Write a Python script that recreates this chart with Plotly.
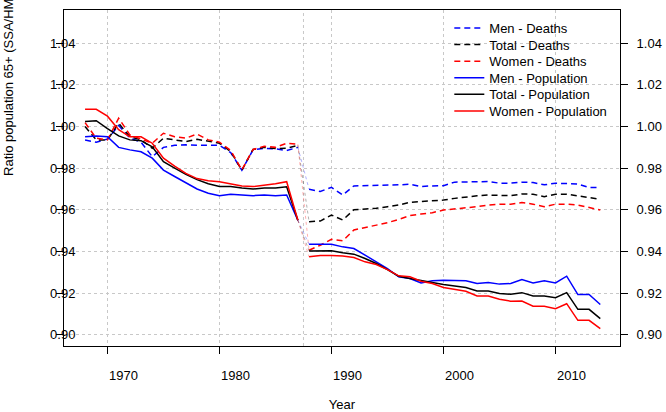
import plotly.graph_objects as go

# ---------------- data ----------------
YEARS_PRE = list(range(1968, 1988))   # 1968..1987
YEARS_POST = list(range(1988, 2015))  # 1988..2014
BREAK_YEAR = 1987.5

men_deaths_pre = [0.9935, 0.9925, 0.9940, 1.0005, 0.9945, 0.9925, 0.9855, 0.9900, 0.9910, 0.9912,
                  0.9910, 0.9910, 0.9910, 0.9875, 0.9790, 0.9888, 0.9895, 0.9893, 0.9885, 0.9900]
total_deaths_pre = [1.0000, 0.9936, 0.9936, 1.0016, 0.9951, 0.9936, 0.9896, 0.9944, 0.9936, 0.9928,
                    0.9939, 0.9928, 0.9920, 0.9880, 0.9790, 0.9890, 0.9900, 0.9894, 0.9896, 0.9910]
women_deaths_pre = [1.0019, 0.9944, 0.9936, 1.0040, 0.9960, 0.9940, 0.9920, 0.9968, 0.9951, 0.9944,
                    0.9964, 0.9936, 0.9925, 0.9885, 0.9792, 0.9890, 0.9905, 0.9900, 0.9920, 0.9915]
men_pop_pre = [0.9951, 0.9955, 0.9951, 0.9900, 0.9888, 0.9879, 0.9848, 0.9791, 0.9760, 0.9728,
               0.9700, 0.9680, 0.9668, 0.9675, 0.9672, 0.9668, 0.9671, 0.9668, 0.9671, 0.9550]
total_pop_pre = [1.0024, 1.0028, 0.9990, 0.9955, 0.9936, 0.9932, 0.9903, 0.9831, 0.9800, 0.9770,
                 0.9745, 0.9725, 0.9712, 0.9712, 0.9705, 0.9700, 0.9705, 0.9705, 0.9711, 0.9550]
women_pop_pre = [1.0083, 1.0083, 1.0050, 0.9985, 0.9951, 0.9951, 0.9920, 0.9848, 0.9810, 0.9775,
                 0.9750, 0.9740, 0.9735, 0.9725, 0.9715, 0.9712, 0.9718, 0.9725, 0.9735, 0.9550]

men_deaths_post = [0.9699, 0.9688, 0.9708, 0.9671, 0.9715, 0.9716, 0.9716, 0.9716, 0.9720, 0.9723,
                   0.9712, 0.9715, 0.9716, 0.9733, 0.9733, 0.9733, 0.9736, 0.9728, 0.9728, 0.9733,
                   0.9731, 0.9720, 0.9728, 0.9726, 0.9724, 0.9707, 0.9707]
total_deaths_post = [0.9543, 0.9546, 0.9575, 0.9551, 0.9600, 0.9604, 0.9607, 0.9615, 0.9623, 0.9636,
                     0.9639, 0.9643, 0.9647, 0.9655, 0.9662, 0.9667, 0.9671, 0.9671, 0.9668, 0.9676,
                     0.9675, 0.9663, 0.9675, 0.9675, 0.9668, 0.9659, 0.9651]
women_deaths_post = [0.9406, 0.9430, 0.9458, 0.9451, 0.9503, 0.9514, 0.9527, 0.9538, 0.9554, 0.9572,
                     0.9580, 0.9586, 0.9599, 0.9604, 0.9612, 0.9615, 0.9623, 0.9627, 0.9627, 0.9635,
                     0.9627, 0.9615, 0.9627, 0.9627, 0.9623, 0.9612, 0.9599]
men_pop_post = [0.9434, 0.9434, 0.9434, 0.9422, 0.9414, 0.9382, 0.9350, 0.9318, 0.9278, 0.9270,
                0.9249, 0.9259, 0.9262, 0.9262, 0.9259, 0.9246, 0.9251, 0.9243, 0.9246, 0.9265,
                0.9249, 0.9259, 0.9249, 0.9281, 0.9193, 0.9193, 0.9145]
total_pop_post = [0.9402, 0.9403, 0.9403, 0.9394, 0.9387, 0.9366, 0.9342, 0.9313, 0.9281, 0.9270,
                  0.9259, 0.9251, 0.9241, 0.9233, 0.9227, 0.9210, 0.9210, 0.9198, 0.9194, 0.9202,
                  0.9186, 0.9186, 0.9178, 0.9202, 0.9122, 0.9122, 0.9077]
women_pop_post = [0.9374, 0.9381, 0.9381, 0.9378, 0.9371, 0.9350, 0.9337, 0.9313, 0.9283, 0.9278,
                  0.9257, 0.9246, 0.9227, 0.9217, 0.9209, 0.9186, 0.9186, 0.9170, 0.9161, 0.9162,
                  0.9137, 0.9137, 0.9125, 0.9149, 0.9069, 0.9069, 0.9029]

X_TICKS = [1970, 1980, 1990, 2000, 2010]
Y_TICKS = [0.90, 0.92, 0.94, 0.96, 0.98, 1.00, 1.02, 1.04]
Y_TICK_TEXT = ["0.90", "0.92", "0.94", "0.96", "0.98", "1.00", "1.02", "1.04"]

# ---------------- figure ----------------
FONT = "Liberation Sans, Arial, sans-serif"
BLUE, RED, BLACK = "#0000ff", "#ff0000", "#000000"
GRID = "#c8c8c8"

series = [
    ("Men - Deaths", men_deaths_pre, men_deaths_post, BLUE, "6px,4px"),
    ("Total - Deaths", total_deaths_pre, total_deaths_post, BLACK, "6px,4px"),
    ("Women - Deaths", women_deaths_pre, women_deaths_post, RED, "6px,4px"),
    ("Men - Population", men_pop_pre, men_pop_post, BLUE, "solid"),
    ("Total - Population", total_pop_pre, total_pop_post, BLACK, "solid"),
    ("Women - Population", women_pop_pre, women_pop_post, RED, "solid"),
]

fig = go.Figure()

# faint connectors across the break
for name, pre, post, col, dash in series:
    fig.add_trace(go.Scatter(
        x=[YEARS_PRE[-1], YEARS_POST[0]], y=[pre[-1], post[0]],
        mode="lines", line=dict(color=col, width=1, dash="dot"),
        opacity=0.3, showlegend=False, hoverinfo="skip", yaxis="y2"))

legend_names = ["legend", "legend2", "legend3", "legend4", "legend5", "legend6"]
for i, (name, pre, post, col, dash) in enumerate(series):
    fig.add_trace(go.Scatter(
        x=YEARS_PRE, y=pre, mode="lines", name=name, legendgroup=name,
        legend=legend_names[i],
        line=dict(color=col, width=1.5, dash=dash)))
    fig.add_trace(go.Scatter(
        x=YEARS_POST, y=post, mode="lines", name=name, legendgroup=name,
        showlegend=False, line=dict(color=col, width=1.5, dash=dash)))

YR = [0.89457, 1.0560]
XR = [1966.12, 2015.76]

fig.add_shape(type="line", xref="x", yref="paper", x0=BREAK_YEAR, x1=BREAK_YEAR,
              y0=0, y1=1, line=dict(color=GRID, width=1, dash="3px,3px"), layer="below")

# one single-entry legend per series, stacked with a tight row pitch
PLOT_TOP, PLOT_H = 10, 336
legend_layout = {}
for i, ln in enumerate(legend_names):
    yc = 28 + 16.6 * i
    legend_layout[ln] = dict(
        x=0.693, y=(PLOT_TOP + PLOT_H - yc) / PLOT_H, xanchor="left", yanchor="middle",
        bgcolor="rgba(0,0,0,0)", borderwidth=0, font=dict(family=FONT, size=13))

fig.update_layout(
    width=666, height=412,
    margin=dict(l=64, r=46, t=10, b=66, autoexpand=False),
    paper_bgcolor="white", plot_bgcolor="white",
    font=dict(family=FONT, size=13, color="black"),
    showlegend=True,
    **legend_layout,
    xaxis=dict(range=XR, tickvals=X_TICKS, ticktext=[str(v) for v in X_TICKS],
               ticks="outside", ticklen=7, tickcolor="black",
               ticklabelshift=16, ticklabelstandoff=10, automargin=False,
               showline=True, linecolor="black", linewidth=1, mirror=True,
               showgrid=True, gridcolor=GRID, griddash="3px,3px", gridwidth=1,
               zeroline=False,
               title=dict(text="Year", font=dict(size=13), standoff=22)),
    yaxis=dict(range=YR, tickvals=Y_TICKS, ticktext=Y_TICK_TEXT,
               ticks="outside", ticklen=7, tickcolor="black",
               ticklabelstandoff=-22, automargin=False,
               showline=True, linecolor="black", linewidth=1, mirror=True,
               showgrid=True, gridcolor=GRID, griddash="3px,3px", gridwidth=1,
               zeroline=False),
    yaxis2=dict(range=YR, overlaying="y", side="right", tickvals=Y_TICKS, ticktext=Y_TICK_TEXT,
                ticks="outside", ticklen=7, tickcolor="black", ticklabelstandoff=6,
                automargin=False,
                showline=True, linecolor="black", linewidth=1,
                showgrid=False, zeroline=False),
)

fig.add_annotation(text="Ratio population 65+ (SSA/HMD)", textangle=-90,
                   xref="paper", yref="paper", x=-0.1, y=0.79,
                   xanchor="center", yanchor="middle", showarrow=False,
                   font=dict(family=FONT, size=13))

fig.write_html("out.html")
